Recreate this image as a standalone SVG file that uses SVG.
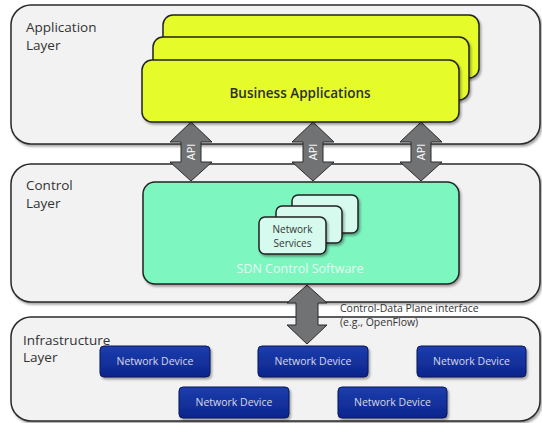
<svg xmlns="http://www.w3.org/2000/svg" width="542" height="423" viewBox="0 0 542 423">
  <defs>
    <filter id="sh" x="-10%" y="-10%" width="120%" height="130%">
      <feDropShadow dx="1.5" dy="2" stdDeviation="1.2" flood-color="#000" flood-opacity="0.35"/>
    </filter>
    <linearGradient id="blue" x1="0" y1="0" x2="0" y2="1">
      <stop offset="0" stop-color="#1d3eae"/>
      <stop offset="1" stop-color="#0c258c"/>
    </linearGradient>
  </defs>
  <style>
    .layer{fill:#f2f2f2;stroke:#2a2a2a;stroke-width:1.5;filter:url(#sh)}
    .ltxt{font-family:"Open Sans","Noto Sans",sans-serif;font-size:13.5px;fill:#333}
    .app{fill:#e5fc2c;stroke:#222;stroke-width:1.5;filter:url(#sh)}
    .ctl{fill:#7ef6c0;stroke:#222;stroke-width:1.5;filter:url(#sh)}
    .svc{fill:#d6faed;stroke:#222;stroke-width:1.5;filter:url(#sh)}
    .dev{fill:url(#blue);stroke:#0a1758;stroke-width:1;filter:url(#sh)}
    .devtxt{font-family:"Open Sans","Noto Sans",sans-serif;font-size:10.5px;fill:#d4d9e6;text-anchor:middle}
    .arr{fill:#707274;stroke:#2a2a2a;stroke-width:1}
    .api{font-family:"Open Sans","Noto Sans",sans-serif;font-size:11px;fill:#fff;text-anchor:middle}
    .small{font-family:"Open Sans","Noto Sans",sans-serif;font-size:10.5px;fill:#333}
  </style>

  <g id="application-layer">
    <rect class="layer" x="11" y="5" width="529" height="139" rx="20"/>
    <text class="ltxt" x="26" y="32">Application</text>
    <text class="ltxt" x="26" y="50">Layer</text>
  </g>
  <g id="control-layer">
    <rect class="layer" x="11" y="164" width="529" height="138" rx="20"/>
    <text class="ltxt" x="26" y="190">Control</text>
    <text class="ltxt" x="26" y="208">Layer</text>
  </g>
  <g id="infrastructure-layer">
    <rect class="layer" x="11" y="317" width="529" height="104" rx="20"/>
    <text class="ltxt" x="23" y="345">Infrastructure</text>
    <text class="ltxt" x="23" y="362">Layer</text>
  </g>

  <g id="connectors">
    <path class="arr" d="M191,122 L212,142 L201,142 L201,162 L212,162 L191,181 L170,162 L181,162 L181,142 L170,142 Z"/>
    <text class="api" transform="translate(195,152) rotate(-90)">API</text>
    <path class="arr" d="M313,122 L334,142 L323,142 L323,162 L334,162 L313,181 L292,162 L303,162 L303,142 L292,142 Z"/>
    <text class="api" transform="translate(317,152) rotate(-90)">API</text>
    <path class="arr" d="M421,122 L442,142 L431,142 L431,162 L442,162 L421,181 L400,162 L411,162 L411,142 L400,142 Z"/>
    <text class="api" transform="translate(425,152) rotate(-90)">API</text>
    <path class="arr" d="M307,285 L327,303 L318,303 L318,325 L327,325 L307,344 L287,325 L296,325 L296,303 L287,303 Z"/>
    <text class="small" x="340" y="312">Control-Data Plane interface</text>
    <text class="small" x="340" y="326">(e.g., OpenFlow)</text>
  </g>

  <g id="business-applications">
    <rect class="app" x="163" y="15" width="316" height="63" rx="10"/>
    <rect class="app" x="153" y="37" width="316" height="63" rx="10"/>
    <rect class="app" x="142" y="60" width="317" height="62" rx="10"/>
    <text x="300" y="98" text-anchor="middle" font-family="Open Sans, Noto Sans, sans-serif" font-size="13.5px" font-weight="600" fill="#2e2e2e">Business Applications</text>
  </g>

  <g id="sdn-control-software">
    <rect class="ctl" x="143" y="182" width="316" height="102" rx="12"/>
    <text x="300" y="273" text-anchor="middle" font-family="Open Sans, Noto Sans, sans-serif" font-size="12.5px" fill="#e6fbf3">SDN Control Software</text>
  </g>

  <g id="network-services">
    <rect class="svc" x="292" y="195" width="66" height="38" rx="6"/>
    <rect class="svc" x="276" y="206" width="66" height="37" rx="6"/>
    <rect class="svc" x="259" y="217" width="67" height="37" rx="6"/>
    <text x="292.5" y="233" text-anchor="middle" font-family="Open Sans, Noto Sans, sans-serif" font-size="10px" fill="#333">Network</text>
    <text x="292.5" y="247" text-anchor="middle" font-family="Open Sans, Noto Sans, sans-serif" font-size="10px" fill="#333">Services</text>
  </g>

  <g id="network-device-1">
    <rect class="dev" x="100" y="346" width="110" height="31" rx="4"/>
    <text class="devtxt" x="155" y="365">Network Device</text>
  </g>
  <g id="network-device-2">
    <rect class="dev" x="258" y="346" width="110" height="31" rx="4"/>
    <text class="devtxt" x="313" y="365">Network Device</text>
  </g>
  <g id="network-device-3">
    <rect class="dev" x="417" y="346" width="109" height="31" rx="4"/>
    <text class="devtxt" x="471.5" y="365">Network Device</text>
  </g>
  <g id="network-device-4">
    <rect class="dev" x="179" y="387" width="110" height="31" rx="4"/>
    <text class="devtxt" x="234" y="406">Network Device</text>
  </g>
  <g id="network-device-5">
    <rect class="dev" x="338" y="387" width="109" height="31" rx="4"/>
    <text class="devtxt" x="392.5" y="406">Network Device</text>
  </g>
</svg>
